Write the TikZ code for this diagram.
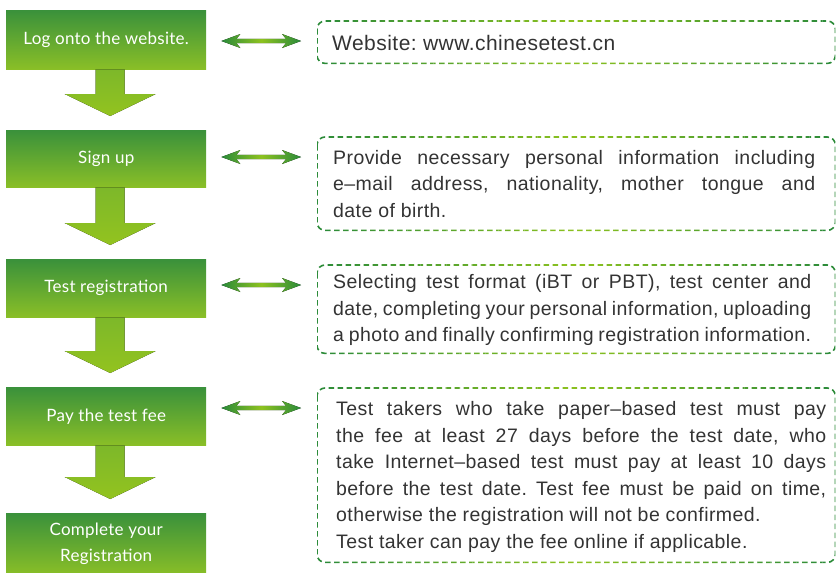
\documentclass[tikz,border=0pt]{standalone}
\usepackage{fontspec}
\setmainfont{Liberation Sans}[LetterSpace=2.2]
\newfontfamily\boxfont{Lato}[LetterSpace=1.5]
\usetikzlibrary{calc}
\definecolor{dg}{HTML}{2A8A3A}
\definecolor{lg}{HTML}{8DC21F}
\definecolor{bt}{HTML}{3A913B}
\definecolor{bb}{HTML}{8ABF27}
\definecolor{at}{HTML}{7DB82A}
\definecolor{ab}{HTML}{93C31F}
\definecolor{txtc}{HTML}{333333}
\newcommand\gradborder[1]{%
  \foreach \i in {0,...,39}{%
    \pgfmathtruncatemacro\m{100*(1-abs(2*(\i+0.5)/40-1))}%
    \begin{scope}
      \clip ($(#1.north west)!{\i/40}!(#1.north east)+(0,-6)$) rectangle ($(#1.south west)!{(\i+1)/40}!(#1.south east)+(0,6)$);
      \draw[dashline, draw=lg!\m!dg] (#1.north west) rectangle (#1.south east);
    \end{scope}}}
\begin{document}
\begin{tikzpicture}[x=1pt,y=-1pt,
  stepbox/.style={anchor=north west, minimum width=200pt, minimum height=#1, inner sep=0pt,
    top color=bt, bottom color=bb, draw=none, text=white,
    font=\boxfont\fontsize{17}{26}\selectfont, align=center},
  infobox/.style={anchor=north west, minimum width=518pt, minimum height=#1, inner sep=0pt, draw=none},
  dashline/.style={line width=1.6pt, dash pattern=on 5.5pt off 3.5pt, rounded corners=8pt},
  desc/.style={anchor=west, inner sep=0pt, text=txtc, font=\frenchspacing\fontsize{19.5}{26.5}\selectfont},
  downarrow/.style={top color=at, bottom color=ab, draw=none},
  dblarrow/.style={left color=dg, right color=dg, middle color=lg, draw=none}]
\useasboundingbox (0,0) rectangle (836,573);

% left step boxes
\node[stepbox=59pt] (s1) at (6,10) {Log onto the website.};
\node[stepbox=57pt] (s2) at (6,130) {Sign up};
\node[stepbox=58pt] (s3) at (6,259) {Test registration};
\node[stepbox=58pt] (s4) at (6,387) {Pay the test fee};
\node[stepbox=62pt] (s5) at (6,513) {Complete your\\Registration};

% right info boxes
\node[infobox=42pt] (d1) at (317,21) {};
\node[infobox=93pt] (d2) at (317,137) {};
\node[infobox=88pt] (d3) at (317,265) {};
\node[infobox=174pt] (d4) at (317,388) {};
\gradborder{d1}
\gradborder{d2}
\gradborder{d3}
\gradborder{d4}

\node[desc, font=\frenchspacing\fontsize{21}{26.5}\selectfont] (t1) at ($(d1.west)+(15,1)$) {Website: www.chinesetest.cn};
\node[desc, text width=482pt, align=justify] (t2) at ($(d2.west)+(16,0)$)
  {Provide necessary personal information including\linebreak e–mail address, nationality, mother tongue and\linebreak date of birth.};
\node[desc, text width=478pt, align=justify] (t3) at ($(d3.west)+(16,1)$)
  {Selecting test format (iBT or PBT), test center and\linebreak date, completing your personal information, uploading\linebreak a photo and finally confirming registration information.};
\node[desc, text width=490pt, align=justify] (t4) at ($(d4.west)+(19,2)$)
  {Test takers who take paper–based test must pay\linebreak the fee at least 27 days before the test date, who\linebreak take Internet–based test must pay at least 10 days\linebreak before the test date. Test fee must be paid on time,\linebreak otherwise the registration will not be confirmed.\\Test taker can pay the fee online if applicable.};

% down arrows
\foreach \a/\b in {s1/s2, s2/s3, s3/s4, s4/s5}{
  \coordinate (T) at ($(\b.north)+(4,-14)$);
  \fill[downarrow] ($(\a.south)+(-10.5,0)$) -- ($(\a.south)+(18.5,0)$)
    -- ($(T)+(14.5,-22)$) -- ($(T)+(45.5,-22)$) -- (T) -- ($(T)+(-45.5,-22)$)
    -- ($(T)+(-14.5,-22)$) -- cycle;
}

% double arrows
\foreach \a/\b in {s1/d1, s2/d2, s3/d3, s4/d4}{
  \coordinate (L) at ($(\a.east |- \b.north)+(15,20)$);
  \coordinate (R) at ($(\b.north west)+(-16,20)$);
  \fill[dblarrow] (L) -- ($(L)+(19,-7)$) -- ($(L)+(15,-2.2)$) -- ($(R)+(-15,-2.2)$)
    -- ($(R)+(-19,-7)$) -- (R) -- ($(R)+(-19,7)$) -- ($(R)+(-15,2.2)$)
    -- ($(L)+(15,2.2)$) -- ($(L)+(19,7)$) -- cycle;
}
\end{tikzpicture}
\end{document}
